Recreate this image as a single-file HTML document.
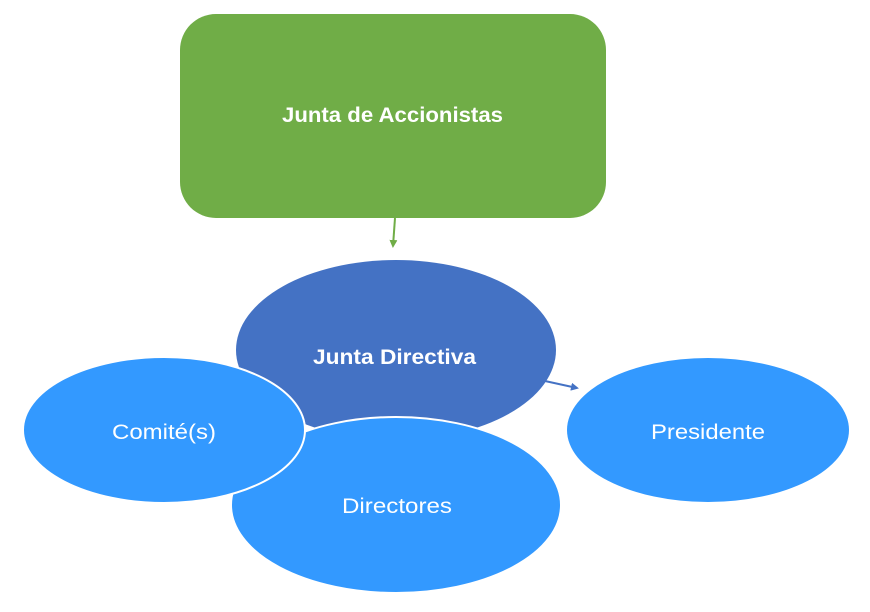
<!DOCTYPE html>
<html><head><meta charset="utf-8"><style>
html,body{margin:0;padding:0;background:#fff;width:870px;height:612px;overflow:hidden}
text{font-family:"Liberation Sans","DejaVu Sans",sans-serif;fill:#fff}
</style></head><body>
<svg width="870" height="612" viewBox="0 0 870 612" xmlns="http://www.w3.org/2000/svg">
<defs>
<marker id="ag" markerWidth="8" markerHeight="8" refX="6" refY="4" orient="auto" markerUnits="userSpaceOnUse"><path d="M0,0 L8,4 L0,8 z" fill="#70AD47"/></marker>
<marker id="ab" markerWidth="8" markerHeight="8" refX="6" refY="4" orient="auto" markerUnits="userSpaceOnUse"><path d="M0,0 L8,4 L0,8 z" fill="#4472C4"/></marker>
</defs>
<rect x="180" y="14" width="426" height="204" rx="36" fill="#70AD47"/>
<text x="282" y="122" font-size="21" font-weight="bold" textLength="221" lengthAdjust="spacingAndGlyphs">Junta de Accionistas</text>
<line x1="395" y1="218" x2="393" y2="246" stroke="#70AD47" stroke-width="2" marker-end="url(#ag)"/>
<ellipse cx="396" cy="350" rx="160" ry="90" fill="#4472C4"/>
<text x="313" y="364" font-size="21" font-weight="bold" textLength="163" lengthAdjust="spacingAndGlyphs">Junta Directiva</text>
<line x1="545" y1="381" x2="577" y2="388" stroke="#4472C4" stroke-width="2" marker-end="url(#ab)"/>
<ellipse cx="396" cy="505" rx="165" ry="88" fill="#3399FF" stroke="#fff" stroke-width="2"/>
<text x="342" y="513" font-size="21" textLength="110" lengthAdjust="spacingAndGlyphs">Directores</text>
<ellipse cx="164" cy="430" rx="141" ry="73" fill="#3399FF" stroke="#fff" stroke-width="2"/>
<text x="112" y="439" font-size="21" textLength="104" lengthAdjust="spacingAndGlyphs">Comité(s)</text>
<ellipse cx="708" cy="430" rx="141" ry="72" fill="#3399FF"/>
<text x="651" y="439" font-size="21" textLength="114" lengthAdjust="spacingAndGlyphs">Presidente</text>
</svg>
</body></html>
